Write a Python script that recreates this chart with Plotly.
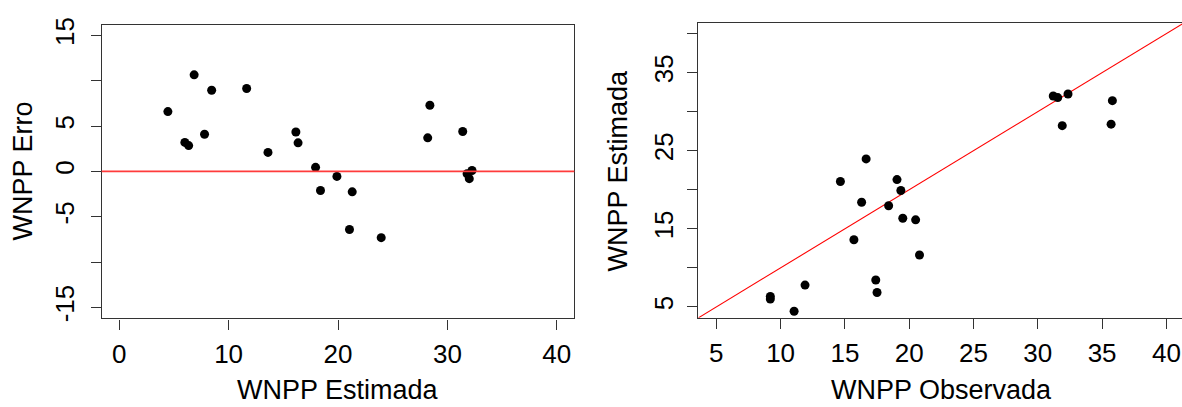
import plotly.graph_objects as go

# WNPP: estimated vs observed values and the estimation error (observed - estimated)
wnpp_estimada = [4.45, 6.85, 8.45, 11.65, 6.0, 6.35, 7.8, 13.6, 16.15, 16.35, 17.95,
                 18.4, 19.9, 21.05, 28.4, 28.2, 31.4, 23.95, 21.3, 32.0, 31.8, 32.25]
wnpp_observada = [11.05, 17.5, 17.4, 20.8, 9.2, 9.2, 11.9, 15.7, 20.5, 19.5, 18.4,
                  16.3, 19.35, 14.65, 35.7, 31.9, 35.8, 16.65, 19.05, 31.2, 31.55, 32.35]
wnpp_erro = [6.6, 10.65, 8.95, 9.15, 3.2, 2.85, 4.1, 2.1, 4.35, 3.15, 0.45,
             -2.1, -0.55, -6.4, 7.3, 3.7, 4.4, -7.3, -2.25, -0.8, -0.25, 0.1]

# axis ticks (labels left blank where they are not printed)
erro_ticks = [-15, -10, -5, 0, 5, 10, 15]
erro_labels = ["-15", "", "-5", "0", "5", "", "15"]
est_x_ticks = [0, 10, 20, 30, 40]
obs_ticks = [5, 10, 15, 20, 25, 30, 35, 40]
est_y_labels = ["5", "", "15", "", "25", "", "35", ""]

W, H = 1182, 407
FONT = "Liberation Sans, Arial, sans-serif"
AX = "#333333"
TICK_FONT = dict(family=FONT, size=26, color="#000000")
TITLE_FONT = dict(family=FONT, size=27, color="#000000")

# left panel: x range [0, 40] and y range [-15, 15] padded by 4 %
x1_range = [-1.6, 41.6]
y1_range = [-16.2, 16.2]
# right panel: both ranges [5, 40] padded by 4 %
y2_range = [3.6, 41.4]
x2_range = [3.6, 3.6 + (W - 698.3) / 12.86]

fig = go.Figure()

fig.add_trace(go.Scatter(
    x=wnpp_estimada, y=wnpp_erro, mode="markers",
    marker=dict(color="#000000", size=9, line=dict(width=0)),
    xaxis="x", yaxis="y", showlegend=False, cliponaxis=False,
))

# identity line y = x across the right panel
fig.add_trace(go.Scatter(
    x=y2_range, y=y2_range, mode="lines",
    line=dict(color="#ff0000", width=1.1),
    xaxis="x2", yaxis="y2", showlegend=False, hoverinfo="skip",
))
fig.add_trace(go.Scatter(
    x=wnpp_observada, y=wnpp_estimada, mode="markers",
    marker=dict(color="#000000", size=9, line=dict(width=0)),
    xaxis="x2", yaxis="y2", showlegend=False, cliponaxis=False,
))

# zero-error reference line
fig.add_shape(type="line", xref="x domain", yref="y", x0=0, x1=1, y0=0, y1=0,
              line=dict(color="#ff3b3b", width=1.8), layer="above")

common_axis = dict(
    showgrid=False, zeroline=False, showline=True, linecolor=AX, linewidth=1.4,
    ticks="outside", ticklen=10, tickwidth=1.4, tickcolor=AX,
    tickfont=TICK_FONT, fixedrange=True,
)

fig.update_layout(
    width=W, height=H,
    margin=dict(l=0, r=0, t=0, b=0),
    paper_bgcolor="white", plot_bgcolor="white",
    xaxis=dict(domain=[101.7 / W, 574.3 / W], range=x1_range,
               tickvals=est_x_ticks, ticklabelstandoff=2,
               mirror=True, anchor="y", **common_axis),
    yaxis=dict(domain=[1 - 320 / H, 1 - 18 / H], range=y1_range,
               tickvals=erro_ticks, ticktext=erro_labels, tickangle=-90,
               ticklabelstandoff=6, mirror=True, anchor="x", **common_axis),
    xaxis2=dict(domain=[698.3 / W, 1.0], range=x2_range,
                tickvals=obs_ticks, ticklabelstandoff=2,
                mirror=True, anchor="y2", **common_axis),
    yaxis2=dict(domain=[1 - 319.5 / H, 1 - 16 / H], range=y2_range,
                tickvals=obs_ticks, ticktext=est_y_labels, tickangle=-90,
                ticklabelstandoff=4, mirror=False, anchor="x2", **common_axis),
)

titles = [
    dict(text="WNPP Estimada", x=338 / W, y=1 - 394 / H, textangle=0),
    dict(text="WNPP Observada", x=942 / W, y=1 - 394 / H, textangle=0),
    dict(text="WNPP Erro", x=23 / W, y=1 - 169 / H, textangle=-90),
    dict(text="WNPP Estimada", x=618 / W, y=1 - 168 / H, textangle=-90),
]
for t in titles:
    fig.add_annotation(xref="paper", yref="paper", showarrow=False,
                       xanchor="center", yanchor="middle", font=TITLE_FONT, **t)

fig.write_html("out.html")
